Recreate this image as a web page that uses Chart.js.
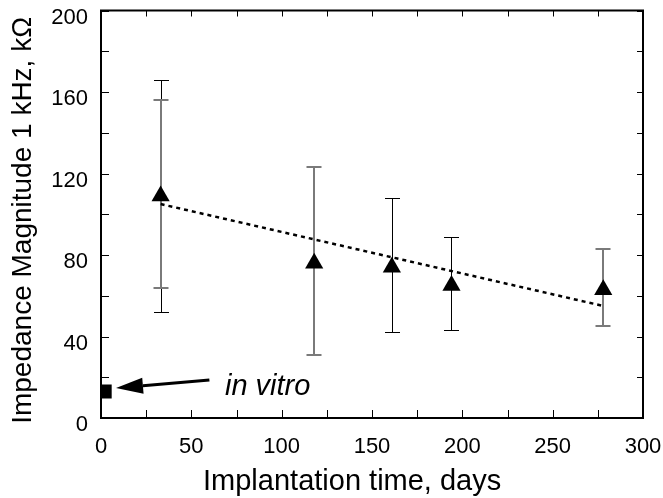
<!DOCTYPE html>
<html>
<head>
<meta charset="utf-8">
<script src="https://cdn.jsdelivr.net/npm/chart.js@4.4.1/dist/chart.umd.min.js"></script>
<style>
  body { margin: 0; background: #fff; }
  #wrap { width: 663px; height: 498px; }
</style>
</head>
<body>
<div id="wrap"><canvas id="impedanceChart"></canvas></div>
<script>
// implanted electrodes, mean impedance
const days = [33, 118, 161, 194, 278];
const impedance = [109, 76, 74, 65, 63];

// error bars (two groups, drawn in different shades)
const blackBarDays = [33, 161, 194];
const blackBarLow = [52, 42, 43];
const blackBarHigh = [166, 108, 89];
const grayBarDays = [33, 118, 278];
const grayBarLow = [64, 31, 45];
const grayBarHigh = [156, 123, 83];

// linear trend
const trendDays = [33, 278];
const trendValues = [105, 55];

// in vitro reference
const vitroDays = [2];
const vitroValues = [13];

const xTitle = "Implantation time, days";
const yTitle = "Impedance Magnitude 1 kHz, kΩ";

const FONT = "'Liberation Sans', Arial, sans-serif";

const toXY = (xs, ys) => xs.map((x, i) => ({ x: x, y: ys[i] }));

const drawBars = (ctx, xs, ys, xs2, lows, highs, color, width) => {
  ctx.save();
  ctx.strokeStyle = color;
  ctx.lineWidth = width;
  const snap = width % 2 === 1 ? 0.5 : 0;
  lows.forEach((lo, i) => {
    const px = Math.round(xs.getPixelForValue(xs2[i])) + snap;
    const pLo = Math.round(ys.getPixelForValue(lo)) + snap;
    const pHi = Math.round(ys.getPixelForValue(highs[i])) + snap;
    ctx.beginPath();
    ctx.moveTo(px, pLo);
    ctx.lineTo(px, pHi);
    ctx.moveTo(px - 7.5, pLo);
    ctx.lineTo(px + 7.5, pLo);
    ctx.moveTo(px - 7.5, pHi);
    ctx.lineTo(px + 7.5, pHi);
    ctx.stroke();
  });
  ctx.restore();
};

const framePlugin = {
  id: "framePlugin",
  beforeDatasetsDraw(chart) {
    const { ctx, scales: { x, y } } = chart;
    drawBars(ctx, x, y, blackBarDays, blackBarLow, blackBarHigh, "#000", 1);
    drawBars(ctx, x, y, grayBarDays, grayBarLow, grayBarHigh, "#7a7a7a", 2);
  },
  afterDatasetsDraw(chart) {
    const { ctx, chartArea: a, scales: { x, y } } = chart;
    ctx.save();
    // inward ticks on all four sides
    ctx.strokeStyle = "#000";
    ctx.lineWidth = 1;
    ctx.beginPath();
    x.ticks.forEach((t) => {
      const px = Math.round(x.getPixelForValue(t.value)) + 0.5;
      ctx.moveTo(px, a.bottom);
      ctx.lineTo(px, a.bottom - 8);
      ctx.moveTo(px, a.top);
      ctx.lineTo(px, a.top + 6);
    });
    y.ticks.forEach((t) => {
      const py = Math.round(y.getPixelForValue(t.value)) + 0.5;
      ctx.moveTo(a.left, py);
      ctx.lineTo(a.left + 8, py);
      ctx.moveTo(a.right, py);
      ctx.lineTo(a.right - 6, py);
    });
    ctx.stroke();
    // frame
    ctx.lineWidth = 2;
    ctx.strokeRect(a.left, a.top, a.right - a.left, a.bottom - a.top);

    // "in vitro" arrow
    const tailX = x.getPixelForValue(60), tailY = y.getPixelForValue(18.6);
    const tipX = x.getPixelForValue(8.3), tipY = y.getPixelForValue(14.7);
    const ang = Math.atan2(tipY - tailY, tipX - tailX);
    const headLen = 27, headW = 8;
    const bx = tipX - Math.cos(ang) * headLen, by = tipY - Math.sin(ang) * headLen;
    ctx.lineWidth = 3;
    ctx.beginPath();
    ctx.moveTo(tailX, tailY);
    ctx.lineTo(bx, by);
    ctx.stroke();
    ctx.fillStyle = "#000";
    ctx.beginPath();
    ctx.moveTo(tipX, tipY);
    ctx.lineTo(bx + Math.sin(ang) * headW, by - Math.cos(ang) * headW);
    ctx.lineTo(bx - Math.sin(ang) * headW, by + Math.cos(ang) * headW);
    ctx.closePath();
    ctx.fill();

    ctx.font = "italic 29px " + FONT;
    ctx.textBaseline = "alphabetic";
    ctx.textAlign = "left";
    ctx.fillText("in vitro", x.getPixelForValue(68.6), y.getPixelForValue(11.3));

    // axis titles (the originals sit a little off the plot centre)
    ctx.font = "29px " + FONT;
    ctx.textAlign = "center";
    ctx.textBaseline = "middle";
    ctx.fillText(xTitle, x.getPixelForValue(139), 482);
    ctx.translate(23, y.getPixelForValue(97));
    ctx.rotate(-Math.PI / 2);
    ctx.font = "28px " + FONT;
    ctx.fillText(yTitle, 0, 0);
    ctx.restore();
  }
};

new Chart(document.getElementById("impedanceChart"), {
  type: "scatter",
  data: {
    datasets: [
      {
        label: "implanted",
        data: toXY(days, impedance),
        pointStyle: "triangle",
        pointRadius: 10.5,
        pointBackgroundColor: "#000",
        pointBorderColor: "#000",
        pointBorderWidth: 0,
        order: 0
      },
      {
        label: "in vitro",
        data: toXY(vitroDays, vitroValues),
        pointStyle: "rect",
        pointRadius: 10,
        pointBackgroundColor: "#000",
        pointBorderColor: "#000",
        pointBorderWidth: 0,
        order: 0
      },
      {
        label: "trend",
        type: "line",
        data: toXY(trendDays, trendValues),
        borderColor: "#000",
        borderWidth: 2.5,
        borderDash: [4, 4],
        pointRadius: 0,
        fill: false,
        order: 1
      }
    ]
  },
  options: {
    responsive: true,
    maintainAspectRatio: false,
    animation: false,
    layout: { padding: { top: 10, right: 20, left: 0, bottom: 0 } },
    plugins: { legend: { display: false }, tooltip: { enabled: false } },
    scales: {
      x: {
        type: "linear",
        position: "bottom",
        min: 0,
        max: 300,
        grid: { display: false, drawTicks: false },
        border: { display: false },
        ticks: {
          stepSize: 25,
          autoSkip: false,
          maxRotation: 0,
          padding: 16,
          color: "#000",
          font: { family: FONT, size: 22 },
          callback: (v) => (v % 50 === 0 ? v : "")
        },
        afterFit: (s) => { s.height = 80; s.paddingLeft = 0; s.paddingRight = 0; }
      },
      y: {
        min: 0,
        max: 200,
        grid: { display: false, drawTicks: false },
        border: { display: false },
        ticks: {
          stepSize: 20,
          autoSkip: false,
          padding: 13,
          labelOffset: 7,
          color: "#000",
          font: { family: FONT, size: 22 },
          callback: (v) => (v % 40 === 0 ? v : "")
        },
        afterFit: (s) => { s.width = 101; s.paddingTop = 0; s.paddingBottom = 0; }
      }
    }
  },
  plugins: [framePlugin]
});
</script>
</body>
</html>
